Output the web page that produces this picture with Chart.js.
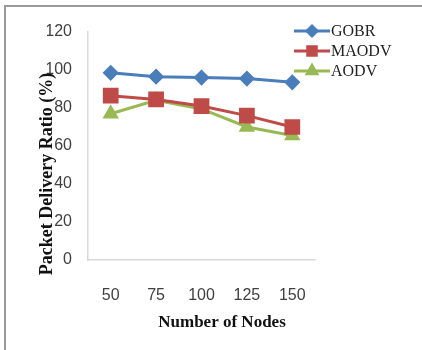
<!DOCTYPE html>
<html><head><meta charset="utf-8">
<script src="https://cdn.jsdelivr.net/npm/chart.js@4/dist/chart.umd.min.js"></script>
<style>html,body{margin:0;padding:0;background:#fff;}#wrap{position:relative;width:422px;height:350px;}</style>
</head><body><div id="wrap"><canvas id="c" width="422" height="350"></canvas></div>
<script>
const nodes = ['50','75','100','125','150'];
const gobr = [98.5, 96.5, 96, 95.5, 93.5];
const maodv = [86.5, 84.5, 81, 76, 70];
const aodv = [77, 84, 79.5, 70, 65.5];
const seriesNames = ['GOBR','MAODV','AODV'];
const xTitle = 'Number of Nodes';
const yTitle = 'Packet Delivery Ratio (%)';

const overlay = {
  id: 'overlay',
  afterDraw(chart) {
    const ctx = chart.ctx, a = chart.chartArea;
    ctx.save();
    ctx.strokeStyle = '#9a9a9a'; ctx.lineWidth = 2;
    ctx.beginPath(); ctx.moveTo(5, 350); ctx.lineTo(5, 6); ctx.lineTo(422, 6); ctx.stroke();
    ctx.fillStyle = '#111';
    ctx.font = 'bold 17px "Liberation Serif"';
    ctx.textAlign = 'center'; ctx.textBaseline = 'middle';
    ctx.fillText(xTitle, a.left + 134, 323);
    ctx.translate(47, 174); ctx.rotate(-Math.PI/2);
    ctx.font = 'bold 18px "Liberation Serif"';
    ctx.fillText(yTitle, 0, 0);
    ctx.restore();
    ctx.save();
    chart.data.datasets.forEach((ds, i) => {
      const y = 31 + i * 20;
      ctx.strokeStyle = ds.borderColor; ctx.lineWidth = 3;
      ctx.beginPath(); ctx.moveTo(294, y); ctx.lineTo(330, y); ctx.stroke();
      ctx.fillStyle = ds.backgroundColor; ctx.strokeStyle = ds.backgroundColor;
      Chart.helpers.drawPoint(ctx, {pointStyle: ds.pointStyle, radius: ds.legendRadius, rotation: 0, borderWidth: 1}, 312, y);
      ctx.fillStyle = '#222';
      ctx.font = '16px "Liberation Serif"';
      ctx.textAlign = 'left'; ctx.textBaseline = 'middle';
      ctx.fillText(ds.label, 331, y + 1);
    });
    ctx.restore();
  }
};

new Chart(document.getElementById('c'), {
  type: 'line',
  data: {
    labels: nodes,
    datasets: [
      {label: seriesNames[0], data: gobr, borderColor: '#4A7EBB', backgroundColor: '#4A7EBB', pointStyle: 'rectRot', pointRadius: 6, legendRadius: 5, borderWidth: 3},
      {label: seriesNames[1], data: maodv, borderColor: '#BE4B48', backgroundColor: '#BE4B48', pointStyle: 'rect', pointRadius: 9, legendRadius: 6, borderWidth: 3},
      {label: seriesNames[2], data: aodv, borderColor: '#98B954', backgroundColor: '#98B954', pointStyle: 'triangle', pointRadius: 6.5, legendRadius: 5.5, borderWidth: 3}
    ]
  },
  options: {
    responsive: false, animation: false,
    layout: {padding: {left: 47, right: 107, top: 32, bottom: 47}},
    plugins: {legend: {display: false}, tooltip: {enabled: false}},
    scales: {
      x: {
        offset: true,
        grid: {display: false, drawTicks: false},
        border: {color: '#d9d9d9', width: 1.5},
        afterFit(s) { s.height = 43; },
        ticks: {padding: 26, color: '#404040', font: {family: 'Liberation Sans', size: 16}}
      },
      y: {
        min: 0, max: 120,
        grid: {display: false, drawTicks: false},
        border: {color: '#d9d9d9', width: 1.5},
        afterFit(s) { s.width = 41; },
        ticks: {stepSize: 20, padding: 16, color: '#404040', font: {family: 'Liberation Sans', size: 16}}
      }
    }
  },
  plugins: [overlay]
});
</script></body></html>
